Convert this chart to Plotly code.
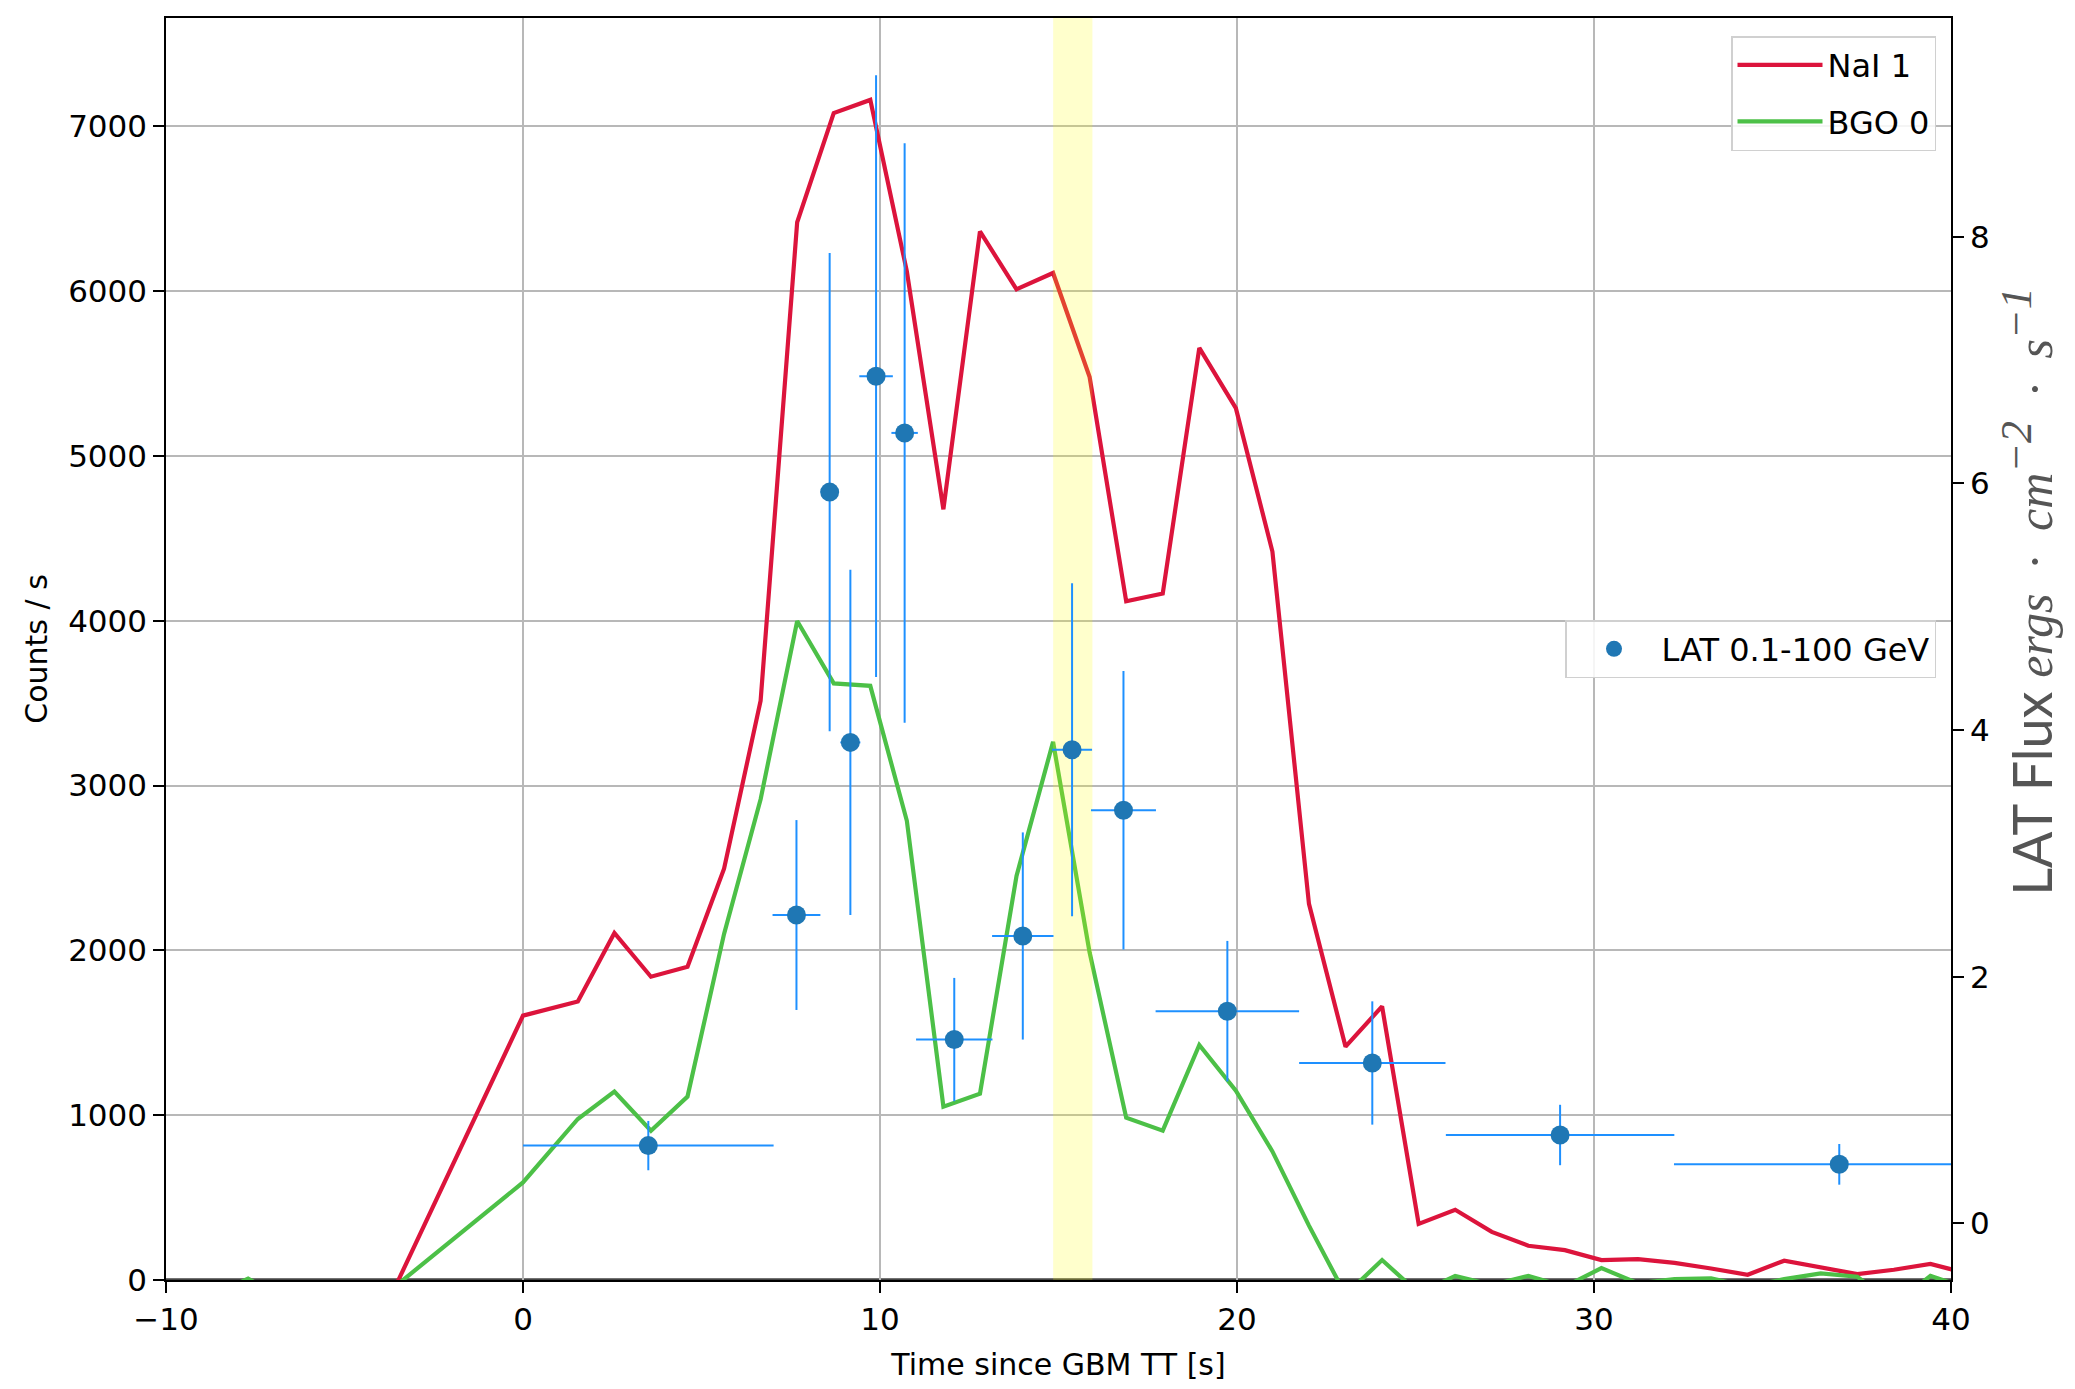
import plotly.graph_objects as go

# ---- data ----
t_counts = [-9.0, -7.7, -6.4, -5.0, 0.0, 1.536, 2.56, 3.584, 4.608, 5.632, 6.656, 7.68, 8.704,
            9.728, 10.752, 11.776, 12.8, 13.824, 14.848, 15.872, 16.896, 17.92, 18.944, 19.968,
            20.992, 22.016, 23.04, 24.064, 25.088, 26.112, 27.136, 28.16, 29.184, 30.208, 31.232,
            32.256, 33.28, 34.304, 35.328, 36.352, 37.376, 38.4, 39.424, 40.448]
nai1 = [-420, -300, -520, -695, 1604, 1690, 2106, 1840, 1900, 2495, 3515, 6418, 7080,
        7160, 6120, 4676, 6362, 6011, 6110, 5478, 4118, 4165, 5655, 5290,
        4420, 2282, 1416, 1660, 340, 426, 292, 208, 181, 121, 127,
        104, 70, 32, 117, 76, 36, 62, 98, 40]
bgo0 = [-120, 8, -150, -289, 592, 977, 1143, 906, 1113, 2100, 2917, 3998, 3620,
        3605, 2786, 1052, 1130, 2452, 3265, 1987, 985, 906, 1426, 1149,
        780, 330, -90, 121, -80, 25, -30, 25, -40, 72, -20,
        5, 10, -40, 5, 40, 20, -150, 25, -50]

lat_t = [3.51, 7.66, 8.59, 9.17, 9.89, 10.69, 12.08, 14.00, 15.38, 16.82, 19.73, 23.79, 29.05, 36.87]
lat_flux = [0.63, 2.50, 5.93, 3.90, 6.87, 6.41, 1.49, 2.33, 3.84, 3.35, 1.72, 1.30, 0.716, 0.478]
lat_terr = [3.51, 0.67, 0.25, 0.28, 0.47, 0.37, 1.07, 0.86, 0.56, 0.91, 2.01, 2.05, 3.20, 4.63]
lat_ferr = [0.20, 0.77, 1.94, 1.40, 2.44, 2.35, 0.50, 0.84, 1.35, 1.13, 0.57, 0.50, 0.245, 0.165]

band = [14.85, 15.95]
x_ticks = [-10, 0, 10, 20, 30, 40]
x_ticktext = ["\u221210", "0", "10", "20", "30", "40"]
y_ticks = [0, 1000, 2000, 3000, 4000, 5000, 6000, 7000]
y2_ticks = [0, 2, 4, 6, 8]
x_range = [-10, 40]
y_range = [0, 7657]
y2_range = [-0.46, 9.775]

FONT = "DejaVu Sans"

fig = go.Figure()
fig.add_trace(go.Scatter(x=t_counts, y=nai1, mode="lines", name="NaI 1",
                         line=dict(color="#DC143C", width=4.2), legend="legend",
                         legendgroup="a"))
fig.add_trace(go.Scatter(x=t_counts, y=bgo0, mode="lines", name="BGO 0",
                         line=dict(color="#4CC047", width=4.2), legend="legend",
                         legendgroup="b"))
# highlighted interval (drawn above the count-rate lines, below LAT points)
fig.add_trace(go.Scatter(x=[band[0], band[1], band[1], band[0], band[0]],
                         y=[y_range[0], y_range[0], y_range[1], y_range[1], y_range[0]],
                         mode="lines", fill="toself", fillcolor="rgba(255,255,0,0.2)",
                         line=dict(width=0), showlegend=False, hoverinfo="skip"))
fig.add_trace(go.Scatter(x=lat_t, y=lat_flux, mode="markers", name="LAT 0.1-100 GeV",
                         yaxis="y2", legend="legend2",
                         marker=dict(color="#1f77b4", size=19),
                         error_x=dict(type="data", array=lat_terr, color="#1E90FF",
                                      thickness=2, width=0),
                         error_y=dict(type="data", array=lat_ferr, color="#1E90FF",
                                      thickness=2, width=0)))

axis_common = dict(showline=True, linecolor="black", linewidth=1.5, ticks="outside",
                   ticklen=11, tickwidth=1.5, tickcolor="black",
                   tickfont=dict(family=FONT, size=31, color="black"))

fig.update_layout(
    width=2075, height=1389,
    margin=dict(l=158, r=132, t=10, b=117, autoexpand=False),
    paper_bgcolor="white", plot_bgcolor="white",
    font=dict(family=FONT, size=30, color="black"),
    xaxis=dict(range=x_range, tickvals=x_ticks, ticktext=x_ticktext,
               showgrid=True, gridcolor="#b8b8b8", gridwidth=1.5, mirror=True, zeroline=False,
               title=dict(text="Time since GBM TT [s]", font=dict(family=FONT, size=30),
                          standoff=18),
               **axis_common),
    yaxis=dict(range=y_range, tickvals=y_ticks, showgrid=True, gridcolor="#b8b8b8",
               gridwidth=1.5, zeroline=False, mirror=True,
               title=dict(text="Counts / s", font=dict(family=FONT, size=30), standoff=12),
               **axis_common),
    yaxis2=dict(range=y2_range, tickvals=y2_ticks, overlaying="y", side="right",
                showgrid=False, zeroline=False, **axis_common),
    legend=dict(x=0.9916, y=0.9857, xanchor="right", yanchor="top",
                bgcolor="rgba(255,255,255,0.85)", bordercolor="#d0d0d0", borderwidth=1.5,
                font=dict(family=FONT, size=32), tracegroupgap=12, itemwidth=85),
    legend2=dict(x=0.9916, y=0.5, xanchor="right", yanchor="middle",
                 bgcolor="rgba(255,255,255,0.85)", bordercolor="#d0d0d0", borderwidth=1.5,
                 font=dict(family=FONT, size=32), itemwidth=85),
    shapes=[dict(type="line", xref="paper", yref="y", x0=0, x1=1, y0=0, y1=0,
                 line=dict(color="#444444", width=3.5), layer="below")],
    annotations=[dict(
        text=("LAT Flux <span style='font-family:Liberation Serif;font-size:50px'><i>"
              "ergs\u2002\u00b7\u2002cm<sup><span style='font-size:44px'>\u22122</span></sup>"
              "\u2002\u00b7\u2002s<sup><span style='font-size:44px'>\u22121</span></sup></i></span>"),
        xref="paper", yref="paper", x=1.043, y=0.303, xanchor="center", yanchor="bottom",
        textangle=-90, showarrow=False,
        font=dict(family="Lato", size=54, color="#555555"))],
)

fig.write_html("out.html")
